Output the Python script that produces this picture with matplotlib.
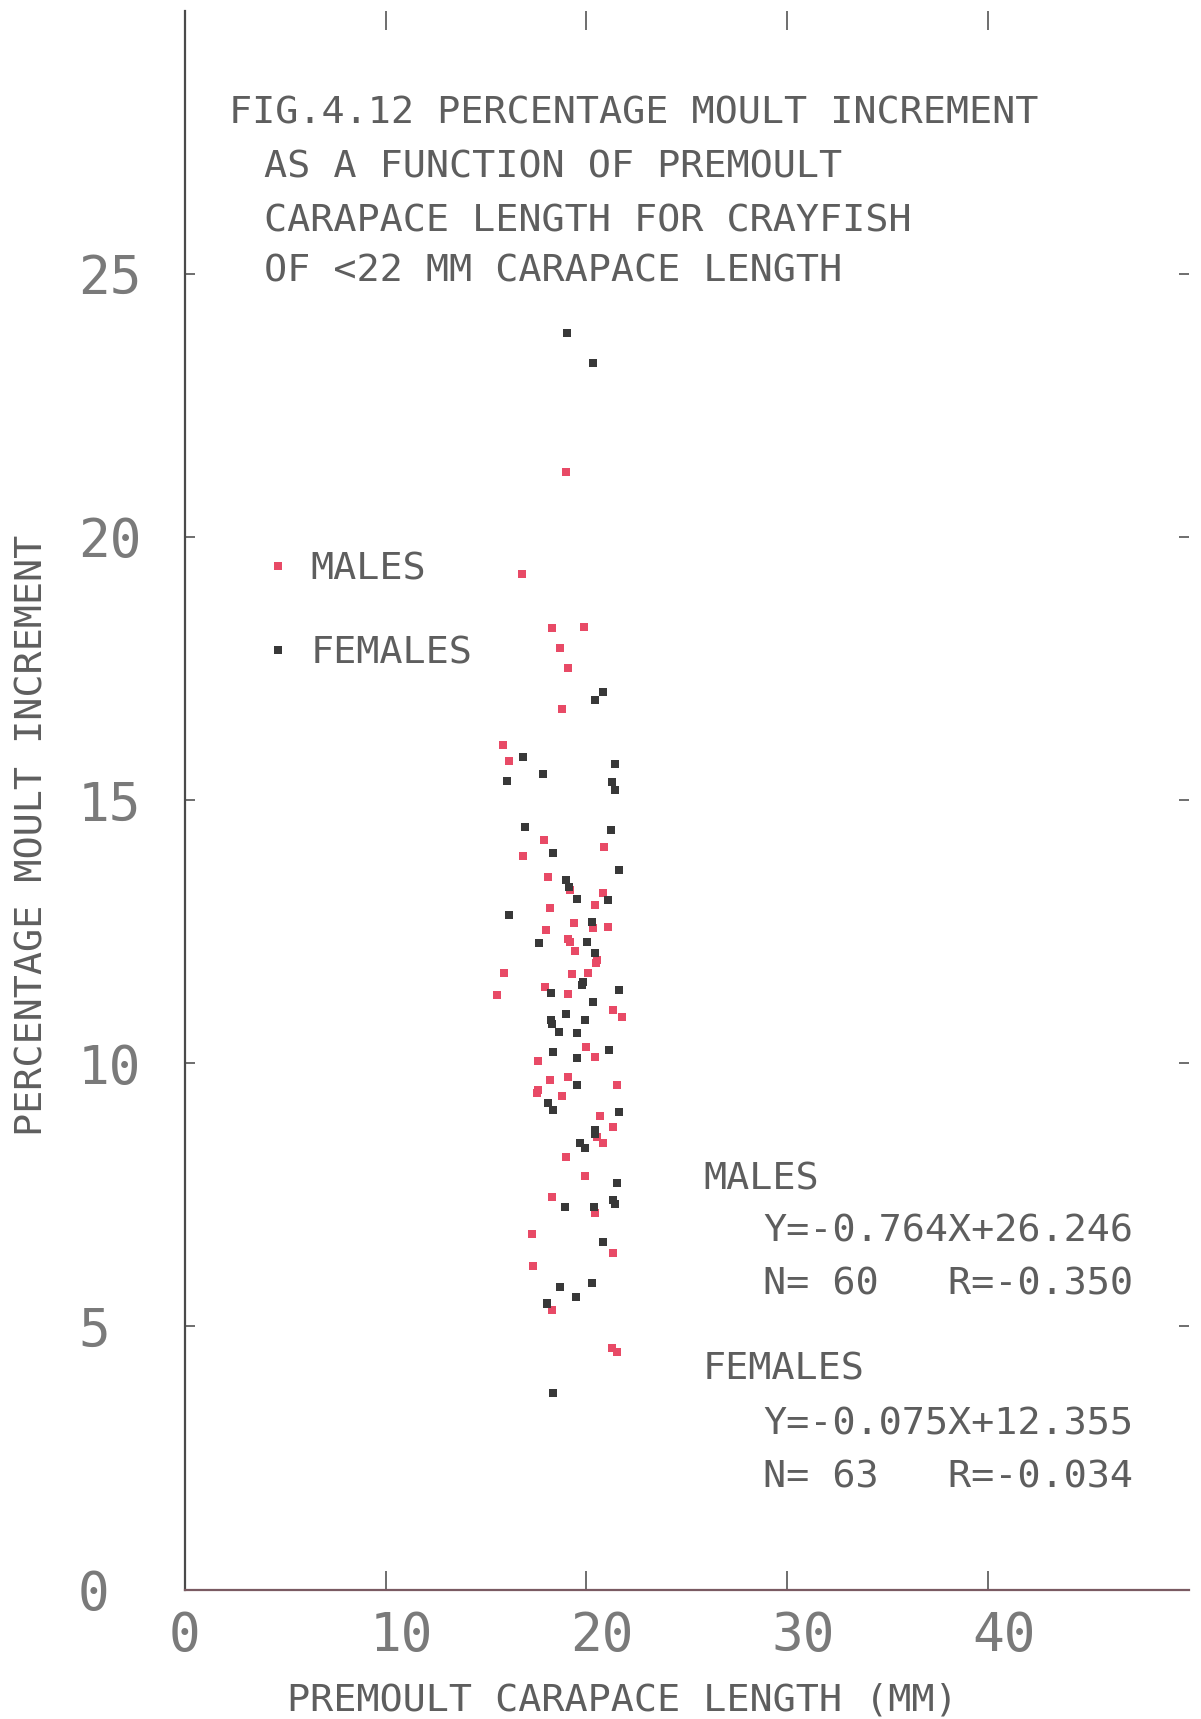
import matplotlib
matplotlib.use("Agg")
import matplotlib.pyplot as plt
from matplotlib.transforms import ScaledTranslation

# ---------------- data ----------------
male_x = [18.98, 16.78, 18.27, 19.88, 18.68, 19.07, 18.80, 15.86, 16.16, 17.89,
          20.88, 16.86, 18.10, 19.18, 20.81, 20.43, 18.19, 17.99, 19.38, 20.34,
          21.09, 19.07, 19.43, 20.51, 15.89, 19.27, 20.09, 15.53, 17.94, 19.10,
          21.34, 21.76, 19.98, 20.43, 17.60, 18.19, 19.10, 21.51, 17.55, 18.80,
          20.68, 21.31, 20.54, 20.84, 18.98, 19.93, 18.27, 20.43, 17.30, 21.31,
          17.35, 18.27, 21.26, 21.51, 19.20, 20.50, 17.60]
male_y = [21.24, 19.30, 18.26, 18.29, 17.88, 17.50, 16.73, 16.05, 15.75, 14.25,
          14.11, 13.94, 13.54, 13.29, 13.24, 13.01, 12.94, 12.54, 12.66, 12.56,
          12.58, 12.36, 12.14, 11.96, 11.71, 11.69, 11.72, 11.30, 11.45, 11.31,
          11.01, 10.87, 10.31, 10.11, 10.05, 9.69, 9.74, 9.59, 9.44, 9.38,
          9.00, 8.78, 8.60, 8.48, 8.22, 7.86, 7.46, 7.16, 6.75, 6.40,
          6.15, 5.31, 4.58, 4.52, 12.30, 11.90, 9.50]

female_x = [19.05, 20.34, 20.43, 20.84, 16.83, 16.03, 17.85, 21.43, 21.26, 21.43,
            16.94, 21.23, 18.32, 21.64, 18.98, 19.55, 21.09, 16.16, 20.26, 17.65,
            20.01, 20.43, 18.22, 19.77, 21.64, 20.34, 18.98, 18.22, 19.93, 18.65,
            19.55, 18.35, 19.52, 21.14, 19.55, 18.10, 18.32, 21.64, 20.43, 19.68,
            19.93, 21.51, 18.93, 20.38, 21.31, 21.43, 20.84, 18.68, 20.26, 19.48,
            18.02, 18.32, 19.15, 19.82, 18.30, 20.45, 18.05]
female_y = [23.87, 23.31, 16.91, 17.06, 15.81, 15.37, 15.49, 15.68, 15.35, 15.20,
            14.48, 14.43, 13.99, 13.67, 13.48, 13.12, 13.10, 12.82, 12.69, 12.29,
            12.31, 12.09, 11.34, 11.49, 11.40, 11.17, 10.93, 10.82, 10.83, 10.60,
            10.58, 10.22, 10.09, 10.26, 9.59, 9.25, 9.12, 9.08, 8.73, 8.49,
            8.39, 7.73, 7.26, 7.26, 7.40, 7.32, 6.61, 5.75, 5.82, 5.55,
            5.42, 3.73, 13.35, 11.55, 10.75, 8.65, 5.45]

x_ticks = [0, 10, 20, 30, 40]
x_tick_labels = ["0", "10", "20", "30", "40"]
y_ticks = [0, 5, 10, 15, 20, 25]
y_tick_labels = ["0", "5", "10", "15", "20", "25"]

title_lines = ["FIG.4.12 PERCENTAGE MOULT INCREMENT",
               "AS A FUNCTION OF PREMOULT",
               "CARAPACE LENGTH FOR CRAYFISH",
               "OF <22 MM CARAPACE LENGTH"]
x_label = "PREMOULT CARAPACE LENGTH (MM)"
y_label = "PERCENTAGE MOULT INCREMENT"
legend_labels = ["MALES", "FEMALES"]
male_stats = ["MALES", "Y=-0.764X+26.246", "N= 60   R=-0.350"]
female_stats = ["FEMALES", "Y=-0.075X+12.355", "N= 63   R=-0.034"]

# ---------------- style ----------------
W, H = 1201, 1719
MALE_C = "#e84a66"
FEMALE_C = "#383838"
TEXT_C = "#5e5e5e"
TICK_C = "#7a7a7a"
FONT = ["DejaVu Sans Mono"]
FS = 27.7
TFS = 38
MS = 5.4

plt.rcParams["font.family"] = FONT

fig = plt.figure(figsize=(W / 100, H / 100), dpi=100)
fig.patch.set_facecolor("white")


def fxp(px):
    return px / W


def fyp(py):
    return 1 - py / H


ax_l, ax_r, ax_b, ax_t = 185, 1188.5, 1589.5, 10.6
ax = fig.add_axes([fxp(ax_l), fyp(ax_b), (ax_r - ax_l) / W, (ax_b - ax_t) / H])
ax.set_xlim(0, 50)
ax.set_ylim(0, 30)

ax.plot(male_x, male_y, linestyle="none", marker="s", markersize=MS,
        markeredgewidth=0, color=MALE_C, label=legend_labels[0], clip_on=False)
ax.plot(female_x, female_y, linestyle="none", marker="s", markersize=MS,
        markeredgewidth=0, color=FEMALE_C, label=legend_labels[1], clip_on=False)

# spines
ax.spines["top"].set_visible(False)
ax.spines["right"].set_visible(False)
ax.spines["left"].set_color("#4a4a4a")
ax.spines["left"].set_linewidth(1.6)
ax.spines["bottom"].set_color("#7a5a62")
ax.spines["bottom"].set_linewidth(1.6)

# ticks
ax.set_xticks(x_ticks)
ax.set_xticklabels(x_tick_labels, ha="left", fontsize=TFS, color=TICK_C)
ax.set_yticks(y_ticks)
ax.set_yticklabels(y_tick_labels, ha="left", fontsize=TFS, color=TICK_C)
ax.tick_params(axis="x", direction="in", length=14, width=1.2, color="#555555",
               top=True, bottom=True, pad=15)
ax.tick_params(axis="y", direction="in", length=7.5, width=1.2, color="#555555",
               left=True, right=True, pad=77)
half_char = 0.301 * TFS / 72
for lab in ax.get_xticklabels():
    lab.set_transform(lab.get_transform() +
                      ScaledTranslation(-half_char, 0, fig.dpi_scale_trans))

# title block
fig.text(fxp(229), fyp(124), title_lines[0], fontsize=FS, color=TEXT_C, va="baseline")
for i, line in enumerate(title_lines[1:]):
    fig.text(fxp(264), fyp([177, 231, 281][i]), line, fontsize=FS,
             color=TEXT_C, va="baseline")

# axis labels
fig.text(fxp(287), fyp(1710), x_label, fontsize=FS, color=TEXT_C, va="baseline")
fig.text(fxp(33), fyp(835), y_label, fontsize=FS, color=TEXT_C,
         rotation=90, ha="center", va="center")

# legend
leg = ax.legend(loc="upper left", bbox_to_anchor=(fxp(267), fyp(551)),
                bbox_transform=fig.transFigure, frameon=False, fontsize=FS,
                handlelength=0.55, handletextpad=0.58, labelspacing=1.27,
                borderpad=0, borderaxespad=0, markerscale=1.1)
for t in leg.get_texts():
    t.set_color(TEXT_C)

# statistics block
for lines, ys in ((male_stats, (1189, 1242, 1294)), (female_stats, (1379, 1434, 1487))):
    fig.text(fxp(703), fyp(ys[0]), lines[0], fontsize=FS, color=TEXT_C, va="baseline")
    fig.text(fxp(763), fyp(ys[1]), lines[1], fontsize=FS, color=TEXT_C, va="baseline")
    fig.text(fxp(763), fyp(ys[2]), lines[2], fontsize=FS, color=TEXT_C, va="baseline")

fig.savefig("out.png", dpi=100, facecolor="white")
